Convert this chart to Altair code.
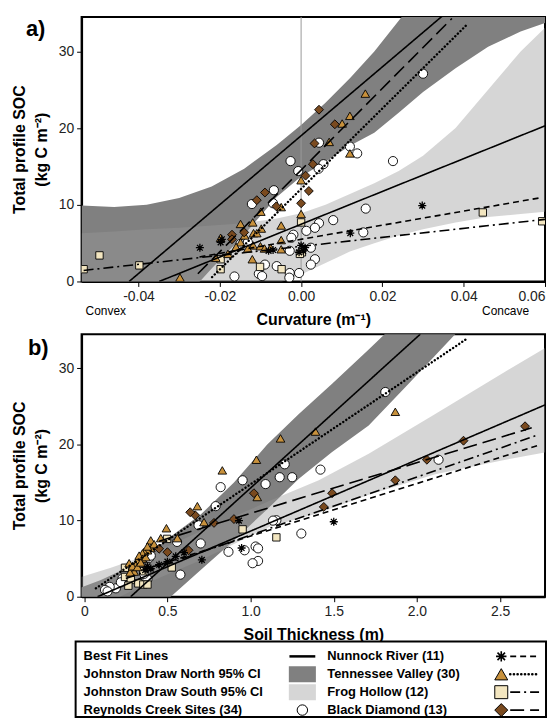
import altair as alt
import pandas as pd

# ---------------- Panel a: curvature vs total profile SOC ----------------
a_rc_x = [0.030, 0.0044, 0.012, 0.0138, 0.0226, -0.0026, -0.0007, 0.0055, 0.0043, -0.0067,
          -0.0121, -0.0069, 0.0159, 0.0079, 0.0044, 0.0013, 0.0034, 0.0153, -0.0019, -0.0024,
          -0.0149, -0.0028, 0.0024, 0.0034, 0.0024, -0.0089, -0.0060, -0.0104, -0.0096, -0.0164,
          -0.0028, -0.0029, -0.0005, -0.0131]
a_rc_y = [27.1, 18.1, 17.6, 16.7, 15.7, 15.7, 14.4, 15.3, 14.7, 11.9,
          10.1, 10.2, 9.5, 8.0, 7.6, 6.6, 7.0, 6.4, 6.1, 5.7,
          4.9, 4.0, 4.4, 2.9, 2.2, 2.2, 2.0, 1.0, 0.7, 0.65,
          1.1, 0.5, 1.1, 5.1]
a_tv_x = [0.0158, 0.012, 0.0101, 0.0069, 0.012, 0.0, 0.0, -0.0049, -0.0099, -0.0119,
          -0.0149, -0.0049, -0.0098, -0.0117, -0.0109, -0.0139, -0.0198, -0.0049, -0.0149, -0.0118,
          -0.0100, -0.0090, -0.0131, -0.0049, -0.0180, -0.0210, -0.0120, -0.0298, -0.0160, -0.0075]
a_tv_y = [24.5, 21.6, 20.6, 18.2, 16.7, 13.2, 8.8, 9.7, 9.1, 7.7,
          7.5, 7.3, 6.9, 6.3, 6.3, 6.0, 5.7, 5.4, 5.1, 4.7,
          4.6, 4.3, 4.3, 4.2, 3.6, 3.1, 2.9, 0.5, 4.5, 4.4]
a_fh_x = [-0.0535, -0.0496, -0.0398, -0.0198, -0.0198, -0.0101, -0.0048, 0.0, 0.0002, 0.0447, 0.0593, -0.0003]
a_fh_y = [1.6, 3.4, 2.1, 2.9, 1.6, 1.9, 1.6, 7.7, 3.8, 9.0, 7.85, 3.6]
a_nr_x = [-0.0249, -0.0198, -0.0195, -0.0069, -0.0080, 0.0, -0.0005, 0.0010, 0.0121, 0.0298, 0.0005]
a_nr_y = [4.4, 5.1, 5.5, 4.1, 4.0, 4.7, 3.8, 4.4, 6.3, 9.9, 4.0]
a_bd_x = [0.0044, 0.0083, 0.0033, 0.0029, 0.0011, 0.0019, 0.0, -0.0089, -0.0109, -0.0061, -0.014, -0.017, -0.017]
a_bd_y = [22.4, 20.5, 18.0, 15.3, 13.8, 11.8, 10.2, 11.6, 10.6, 9.8, 6.4, 6.1, 5.5]

# confidence bands (panel a)
a_band_x = [-0.054, -0.046, -0.038, -0.030, -0.022, -0.014, -0.006, 0.000, 0.006, 0.012,
            0.018, 0.024, 0.030, 0.038, 0.046, 0.054, 0.060]
a_jdn_hi = [9.9, 9.7, 10.0, 10.9, 12.4, 14.7, 17.8, 20.4, 23.3, 26.5,
            30.0, 34.0, 38.0, 44.0, 50.0, 56.0, 60.0]
a_jdn_lo = [-12.0, -9.0, -6.0, -3.0, 1.7, 6.1, 11.0, 13.7, 15.6, 17.7,
            19.4, 22.0, 24.7, 27.8, 30.6, 32.6, 33.7]
a_jds_hi = [6.3, 6.5, 6.8, 7.0, 7.3, 7.6, 8.2, 8.9, 10.0, 11.4,
            12.8, 14.4, 16.4, 20.0, 25.0, 30.0, 33.1]
a_jds_lo = [-20.0, -15.0, -10.0, -6.5, -3.5, -2.5, -0.3, 0.9, 2.4, 3.9,
            5.0, 6.0, 6.8, 7.7, 8.4, 8.8, 9.1]

# best fit lines (panel a): start/end points
a_fit_x0 = {"jdn": -0.0423, "jds": -0.0349, "nr": -0.025, "tv": -0.0219, "fh": -0.0535, "bd": -0.0254}
a_fit_y0 = {"jdn": 0.0, "jds": 0.0, "nr": 3.2, "tv": 0.57, "fh": 1.44, "bd": 1.0}
a_fit_x1 = {"jdn": 0.0347, "jds": 0.060, "nr": 0.0587, "tv": 0.041, "fh": 0.060, "bd": 0.0371}
a_fit_y1 = {"jdn": 34.6, "jds": 20.3, "nr": 10.9, "tv": 33.6, "fh": 8.1, "bd": 34.3}

# ---------------- Panel b: soil thickness vs total profile SOC ----------------
b_rc_x = [1.81, 2.13, 1.205, 1.42, 1.175, 1.25, 0.952, 1.09, 0.82, 0.79,
          1.155, 1.135, 0.687, 1.305, 0.558, 0.70, 1.03, 1.045, 0.964, 0.867,
          1.045, 1.012, 0.578, 0.39, 0.366, 0.38, 0.23, 0.19, 0.153, 0.125,
          0.14, 0.40, 0.22, 0.36]
b_rc_y = [26.9, 18.0, 17.4, 16.7, 15.7, 15.7, 15.3, 14.8, 14.4, 11.9,
          10.05, 10.0, 9.4, 8.3, 7.2, 7.0, 6.6, 6.35, 6.1, 5.9,
          4.7, 4.4, 2.9, 5.1, 2.6, 2.3, 2.4, 1.1, 1.3, 0.9,
          0.7, 5.4, 1.9, 3.0]
b_tv_x = [1.87, 1.39, 1.18, 1.035, 0.83, 1.04, 0.68, 0.72, 0.494, 0.56,
          0.46, 0.40, 0.40, 0.38, 0.36, 0.35, 0.35, 0.32, 0.31, 0.29,
          0.27, 0.30, 0.275, 0.33, 0.37, 0.42, 0.29, 0.32, 0.34, 0.38]
b_tv_y = [24.3, 21.7, 20.8, 18.0, 16.6, 13.1, 11.9, 9.8, 9.0, 7.7,
          7.7, 7.4, 6.4, 6.1, 5.9, 5.7, 5.0, 4.8, 4.15, 3.7,
          4.4, 3.3, 3.2, 5.4, 5.2, 6.9, 4.0, 3.9, 4.5, 6.6]
b_fh_x = [0.952, 1.155, 0.498, 0.526, 0.245, 0.245, 0.28, 0.325, 0.265, 0.355, 0.38, 0.355]
b_fh_y = [8.85, 7.8, 7.6, 3.85, 3.8, 2.6, 2.2, 1.75, 1.45, 1.6, 1.6, 3.35]
b_nr_x = [1.50, 0.946, 0.93, 0.707, 0.40, 0.366, 0.50, 0.55, 0.45, 0.60, 0.38]
b_nr_y = [9.85, 6.4, 10.0, 4.85, 3.7, 3.5, 4.6, 5.3, 4.2, 5.8, 4.0]
b_bd_x = [2.65, 2.28, 2.06, 1.87, 1.49, 1.44, 1.02, 0.90, 0.78, 0.667, 0.637, 0.627, 0.50, 0.45]
b_bd_y = [22.4, 20.5, 18.0, 15.3, 13.6, 11.8, 13.6, 10.2, 9.7, 10.7, 11.1, 6.1, 5.85, 6.3]

b_jdn_x = [-0.02, 0.10, 0.20, 0.30, 0.40, 0.52, 0.70, 0.90, 1.10, 1.29, 1.49, 1.71, 1.95, 2.23, 2.50, 2.78]
b_jdn_hi = [1.2, 2.2, 3.2, 4.3, 5.8, 7.9, 10.8, 15.0, 20.0, 24.0, 28.0, 32.5, 37.5, 42.0, 47.0, 52.0]
b_jdn_lo = [-8.0, -6.5, -5.0, -3.5, -2.0, 0.0, 3.5, 7.4, 11.5, 15.5, 19.0, 22.5, 28.0, 34.5, 40.0, 45.0]
b_jds_x = [-0.02, 0.16, 0.40, 0.70, 1.115, 1.41, 1.71, 2.11, 2.51, 2.78]
b_jds_hi = [2.6, 3.8, 5.6, 8.6, 12.6, 15.3, 18.8, 24.0, 29.3, 32.8]
b_jds_lo = [-2.5, -0.6, 2.0, 4.8, 9.2, 11.0, 13.4, 16.1, 17.9, 19.0]

b_fit_x0 = {"jdn": 0.279, "jds": 0.08, "nr": 0.35, "tv": 0.07, "fh": 0.25, "bd": 0.45}
b_fit_y0 = {"jdn": 0.0, "jds": 0.0, "nr": 3.5, "tv": 1.1, "fh": 2.4, "bd": 7.3}
b_fit_x1 = {"jdn": 2.02, "jds": 2.78, "nr": 2.73, "tv": 2.30, "fh": 2.72, "bd": 2.69}
b_fit_y1 = {"jdn": 34.5, "jds": 25.3, "nr": 19.9, "tv": 33.9, "fh": 21.2, "bd": 22.2}

# ---------------- Legend text ----------------
leg_left = ["Best Fit Lines", "Johnston Draw North 95% CI", "Johnston Draw South 95% CI", "Reynolds Creek Sites (34)"]
leg_right = ["Nunnock River (11)", "Tennessee Valley (30)", "Frog Hollow (12)", "Black Diamond (13)"]

# ---------------- styles ----------------
FONT = "Liberation Sans"
DARK = "#808080"
LIGHT = "#999999"
TV_FILL = "#C8913C"
FH_FILL = "#F3E6C0"
BD_FILL = "#7A4A1F"
ASTER = "M0,-1L0,1M-1,0L1,0M-0.72,-0.72L0.72,0.72M-0.72,0.72L0.72,-0.72"
DASH = {"jdn": [1, 0], "jds": [1, 0], "nr": [6, 4], "tv": [0.1, 3.6], "fh": [10, 4, 2, 4], "bd": [14, 6]}
LW = {"jdn": 1.6, "jds": 1.6, "nr": 1.6, "tv": 2.4, "fh": 1.6, "bd": 1.6}
CAP = {"jdn": "butt", "jds": "butt", "nr": "butt", "tv": "round", "fh": "butt", "bd": "butt"}

YS = alt.Scale(domain=[0, 34.5], nice=False, zero=False)
MINUS = "\u2212"


def yaxis(h):
    return alt.Axis(values=[0, 10, 20, 30], title=["Total profile SOC", "(kg C m\u207b\u00b2)"],
                    titleX=-70, titleY=h / 2, titleAngle=270, titleBaseline="top", titleAlign="center",
                    titleLineHeight=22)


def panel(xs, xaxis, h, pts, bands, fits, extra):
    layers = []
    for bx, lo, hi, color, op in bands:
        df = pd.DataFrame({"x": bx, "lo": lo, "hi": hi})
        layers.append(alt.Chart(df).mark_area(color=color, opacity=op, clip=True).encode(
            x=alt.X("x:Q", scale=xs, axis=xaxis), y=alt.Y("lo:Q", scale=YS, axis=yaxis(h)), y2="hi:Q"))
    layers += extra
    for x, y, shape, fill, size, filled in pts:
        df = pd.DataFrame({"x": x, "y": y})
        kw = dict(shape=shape, size=size, stroke="black", opacity=1, clip=True)
        if filled:
            m = alt.Chart(df).mark_point(filled=True, fill=fill, strokeWidth=0.9, **kw)
        else:
            m = alt.Chart(df).mark_point(filled=False, strokeWidth=1.3, **kw)
        layers.append(m.encode(x=alt.X("x:Q", scale=xs, axis=xaxis), y=alt.Y("y:Q", scale=YS, axis=yaxis(h))))
    x0, y0, x1, y1 = fits
    for k in ["jdn", "jds", "nr", "tv", "fh", "bd"]:
        df = pd.DataFrame({"x": [x0[k], x1[k]], "y": [y0[k], y1[k]]})
        layers.append(alt.Chart(df).mark_line(color="black", strokeWidth=LW[k], strokeDash=DASH[k],
                                              strokeCap=CAP[k], clip=True).encode(
            x=alt.X("x:Q", scale=xs, axis=xaxis), y=alt.Y("y:Q", scale=YS, axis=yaxis(h))))
    return layers


def text_layer(t, x, y, size, weight="normal", align="left"):
    return alt.Chart(pd.DataFrame({"t": [t]})).mark_text(
        align=align, baseline="middle", fontSize=size, fontWeight=weight, font=FONT, color="black").encode(
        x=alt.value(x), y=alt.value(y), text="t:N")


# ---- panel a ----
xs_a = alt.Scale(domain=[-0.054, 0.06], nice=False, zero=False)
xaxis_a = alt.Axis(values=[-0.04, -0.02, 0, 0.02, 0.04, 0.06],
                   labelExpr="replace(format(datum.value, '.2f'), '" + MINUS + "', '-')",
                   title="Curvature (m\u207b\u00b9)", titleY=38, titleBaseline="middle")
zero_rule = alt.Chart(pd.DataFrame({"x": [0.0]})).mark_rule(color="#999999", strokeWidth=1).encode(
    x=alt.X("x:Q", scale=xs_a, axis=xaxis_a))
layers_a = panel(
    xs_a, xaxis_a, 266,
    [(a_rc_x, a_rc_y, "circle", "white", 85, True),
     (a_fh_x, a_fh_y, "square", FH_FILL, 55, True),
     (a_tv_x, a_tv_y, "triangle-up", TV_FILL, 75, True),
     (a_bd_x, a_bd_y, "diamond", BD_FILL, 80, True),
     (a_nr_x, a_nr_y, ASTER, None, 65, False)],
    [(a_band_x, a_jdn_lo, a_jdn_hi, DARK, 1.0), (a_band_x, a_jds_lo, a_jds_hi, LIGHT, 0.4)],
    (a_fit_x0, a_fit_y0, a_fit_x1, a_fit_y1),
    [zero_rule])
layers_a += [text_layer("a)", -56, 12, 22, "bold"),
             text_layer("Convex", 4, 296, 12),
             text_layer("Concave", 450, 296, 12, align="right")]
chart_a = alt.layer(*layers_a).properties(width=466, height=266)

# ---- panel b ----
xs_b = alt.Scale(domain=[-0.016, 2.77], nice=False, zero=False)
xaxis_b = alt.Axis(values=[0, 0.5, 1.0, 1.5, 2.0, 2.5],
                   labelExpr="datum.value == 0 ? '0' : format(datum.value, '.1f')",
                   title="Soil Thickness (m)", titleY=38, titleBaseline="middle")
layers_b = panel(
    xs_b, xaxis_b, 264,
    [(b_rc_x, b_rc_y, "circle", "white", 85, True),
     (b_fh_x, b_fh_y, "square", FH_FILL, 55, True),
     (b_tv_x, b_tv_y, "triangle-up", TV_FILL, 75, True),
     (b_bd_x, b_bd_y, "diamond", BD_FILL, 80, True),
     (b_nr_x, b_nr_y, ASTER, None, 65, False)],
    [(b_jdn_x, b_jdn_lo, b_jdn_hi, DARK, 1.0), (b_jds_x, b_jds_lo, b_jds_hi, LIGHT, 0.4)],
    (b_fit_x0, b_fit_y0, b_fit_x1, b_fit_y1),
    [])
layers_b += [text_layer("b)", -54, 14, 22, "bold")]
chart_b = alt.layer(*layers_b).properties(width=466, height=264)

# ---- legend ----
ROWS = [0, 1, 2, 3]
YL = alt.Scale(type="point", domain=ROWS, range=[7, 61], padding=0)
leg_df = pd.DataFrame({"row": ROWS, "left": leg_left, "right": leg_right})


def leg_y():
    return alt.Y("row:O", scale=YL, axis=None)


box = alt.Chart(pd.DataFrame({"k": [0]})).mark_rect(fill="white", stroke="black", strokeWidth=2).encode(
    x=alt.value(-6), x2=alt.value(467), y=alt.value(-8), y2=alt.value(68))
txt_l = alt.Chart(leg_df).mark_text(align="left", baseline="middle", fontSize=13, fontWeight="bold",
                                    font=FONT, color="black").encode(x=alt.value(2), y=leg_y(), text="left:N")
txt_r = alt.Chart(leg_df).mark_text(align="left", baseline="middle", fontSize=13, fontWeight="bold",
                                    font=FONT, color="black").encode(x=alt.value(247), y=leg_y(), text="right:N")
one = lambda r: pd.DataFrame({"row": [r]})
leg_layers = [box, txt_l, txt_r]
leg_layers.append(alt.Chart(one(0)).mark_rule(color="black", strokeWidth=2.5).encode(
    x=alt.value(209), x2=alt.value(235), y=leg_y()))
RECT = "M-1.8,-1H1.8V1H-1.8Z"
leg_layers.append(alt.Chart(one(1)).mark_point(shape=RECT, filled=True, fill=DARK, stroke=DARK, size=196, opacity=1).encode(
    x=alt.value(222), y=leg_y()))
leg_layers.append(alt.Chart(one(2)).mark_point(shape=RECT, filled=True, fill="#D6D6D6", stroke="#D6D6D6", size=196, opacity=1).encode(
    x=alt.value(222), y=leg_y()))
leg_layers.append(alt.Chart(one(3)).mark_point(shape="circle", filled=True, fill="white", stroke="black", strokeWidth=1, size=110, opacity=1).encode(
    x=alt.value(222), y=leg_y()))
sym = [(0, ASTER, None, False, 110, "nr"), (1, "triangle-up", TV_FILL, True, 170, "tv"),
       (2, "square", FH_FILL, True, 170, "fh"), (3, "diamond", BD_FILL, True, 170, "bd")]
for r, shp, fill, filled, size, key in sym:
    if filled:
        m = alt.Chart(one(r)).mark_point(shape=shp, filled=True, fill=fill, stroke="black", strokeWidth=1, size=size, opacity=1)
    else:
        m = alt.Chart(one(r)).mark_point(shape=shp, filled=False, stroke="black", strokeWidth=1.6, size=size, opacity=1)
    leg_layers.append(m.encode(x=alt.value(422), y=leg_y()))
    leg_layers.append(alt.Chart(one(r)).mark_rule(color="black", strokeWidth=LW[key] + 0.2, strokeDash=DASH[key],
                                                  strokeCap=CAP[key]).encode(
        x=alt.value(431), x2=alt.value(460), y=leg_y()))
legend = alt.layer(*leg_layers).properties(width=466, height=68, view=alt.ViewBackground(stroke="transparent"))

chart = alt.vconcat(chart_a, chart_b, legend, spacing=53, bounds="flush").properties(
    padding={"left": 3, "top": 5, "right": 0, "bottom": 0}
).configure_view(stroke="black", strokeWidth=2).configure_axis(
    grid=False, domainColor="black", domainWidth=2, tickColor="black", tickSize=5, tickWidth=1,
    labelFont=FONT, labelFontSize=14, labelColor="#222222", labelPadding=3,
    titleFont=FONT, titleFontSize=16, titleFontWeight="bold", titleColor="black"
)

chart.save("out.html", embed_options={"renderer": "svg", "actions": False})
